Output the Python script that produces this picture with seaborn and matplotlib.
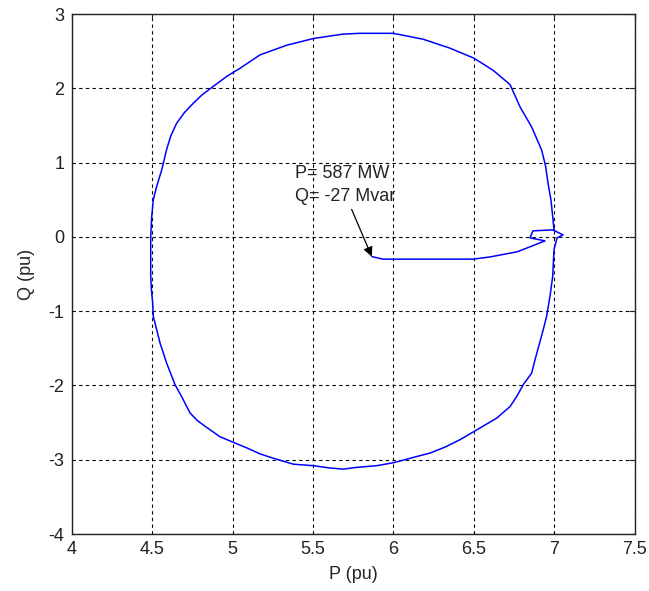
import numpy as np
import pandas as pd
import matplotlib
matplotlib.use('Agg')
import matplotlib.pyplot as plt
import seaborn as sns

# P-Q trajectory (pu)
p_vals = [5.865, 5.935, 6.20, 6.493, 6.60, 6.77, 6.941, 6.848, 6.866, 6.99, 7.053, 7.016,
          6.997, 6.993, 6.989, 6.972, 6.951, 6.93, 6.905, 6.879, 6.858, 6.806, 6.765, 6.724,
          6.641, 6.5, 6.413, 6.32, 6.227, 6.144, 6.0, 5.896, 5.761, 5.688, 5.60, 5.502,
          5.378, 5.253, 5.17, 5.088, 4.999, 4.922, 4.83, 4.78, 4.736, 4.684, 4.643, 4.591,
          4.55, 4.529, 4.508, 4.504, 4.496, 4.492, 4.492, 4.498, 4.508, 4.529, 4.56, 4.59,
          4.615, 4.653, 4.70, 4.757, 4.81, 4.871, 4.964, 5.047, 5.171, 5.337, 5.502, 5.688,
          5.792, 5.999, 6.185, 6.351, 6.5, 6.62, 6.724, 6.755, 6.786, 6.858, 6.92, 6.945,
          6.96, 6.978, 6.989, 6.997]
q_vals = [-0.265, -0.30, -0.30, -0.30, -0.27, -0.20, -0.054, -0.013, 0.081, 0.094, 0.027, -0.013,
          -0.17, -0.35, -0.53, -0.80, -1.07, -1.25, -1.45, -1.655, -1.835, -1.99, -2.15, -2.284,
          -2.44, -2.62, -2.73, -2.83, -2.91, -2.957, -3.04, -3.08, -3.105, -3.127, -3.11, -3.08,
          -3.06, -2.98, -2.92, -2.84, -2.76, -2.69, -2.55, -2.47, -2.37, -2.15, -1.99, -1.70,
          -1.43, -1.25, -1.07, -0.89, -0.70, -0.53, 0.0, 0.27, 0.50, 0.68, 0.90, 1.17,
          1.35, 1.53, 1.67, 1.80, 1.91, 2.01, 2.16, 2.27, 2.45, 2.58, 2.67, 2.73,
          2.74, 2.74, 2.66, 2.54, 2.405, 2.24, 2.05, 1.90, 1.75, 1.48, 1.17, 0.95,
          0.72, 0.50, 0.27, 0.094]

x_ticks = [4, 4.5, 5, 5.5, 6, 6.5, 7, 7.5]
x_tick_labels = ['4', '4.5', '5', '5.5', '6', '6.5', '7', '7.5']
y_ticks = [-4, -3, -2, -1, 0, 1, 2, 3]

df = pd.DataFrame({'P': p_vals, 'Q': q_vals})

sns.set_style('white')
plt.rcParams['font.family'] = ['Liberation Sans', 'DejaVu Sans']
plt.rcParams['axes.unicode_minus'] = False

fig = plt.figure(figsize=(6.49, 5.91), dpi=100)
ax = fig.add_axes([0.1102, 0.0964, 0.8682, 0.8799])

sns.lineplot(data=df, x='P', y='Q', sort=False, estimator=None, color='#0000ff',
             linewidth=1.1, ax=ax)

ax.set_xlim(4, 7.5)
ax.set_ylim(-4, 3)
ax.set_xticks(x_ticks)
ax.set_xticklabels(x_tick_labels)
ax.set_yticks(y_ticks)
ax.grid(True, color='black', linestyle=(0, (3, 3)), linewidth=0.8)
ax.set_axisbelow(True)
ax.tick_params(direction='in', top=True, right=True, length=4, labelsize=13,
               colors='#222222', pad=5)
for s in ax.spines.values():
    s.set_color('#222222')
    s.set_linewidth(1.0)

ax.set_xlabel('P (pu)', fontsize=13, labelpad=6)
ax.set_ylabel('Q (pu)', fontsize=13, labelpad=10)

# Çalışma noktası etiketi ve oku
ax.text(5.39, 0.70, 'P= 587 MW\nQ= -27 Mvar', fontsize=13, ha='left', va='center',
        linespacing=1.45, color='#222222')
ax.annotate('', xy=(p_vals[0], q_vals[0]), xytext=(5.74, 0.37),
            arrowprops=dict(arrowstyle='-|>', color='black', lw=0.9,
                            mutation_scale=14, shrinkA=0, shrinkB=0))

fig.savefig('out.png', dpi=100)
